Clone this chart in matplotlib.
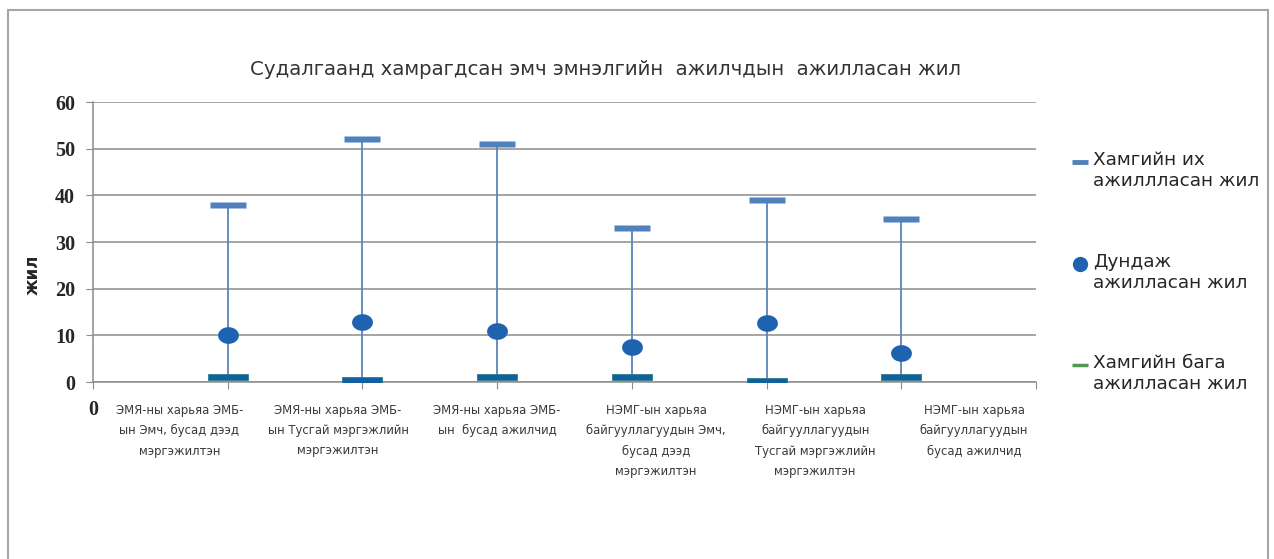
import numpy as np
import matplotlib
matplotlib.use("Agg")
import matplotlib.pyplot as plt
from matplotlib.path import Path
from matplotlib.lines import Line2D
from matplotlib.patches import Rectangle

# data
categories = [
    "ЭМЯ-ны харьяа ЭМБ-\nын Эмч, бусад дээд\nмэргэжилтэн",
    "ЭМЯ-ны харьяа ЭМБ-\nын Тусгай мэргэжлийн\nмэргэжилтэн",
    "ЭМЯ-ны харьяа ЭМБ-\nын  бусад ажилчид",
    "НЭМГ-ын харьяа\nбайгууллагуудын Эмч,\nбусад дээд\nмэргэжилтэн",
    "НЭМГ-ын харьяа\nбайгууллагуудын\nТусгай мэргэжлийн\nмэргэжилтэн",
    "НЭМГ-ын харьяа\nбайгууллагуудын\nбусад ажилчид",
]
max_years = [38, 52, 51, 33, 39, 35]
mean_years = [10.0, 12.8, 11.0, 7.6, 12.6, 6.3]
min_years = [1, 0.5, 1, 1, 0.25, 1]

series_names = ["Хамгийн их\nажиллласан жил",
                "Дундаж\nажилласан жил",
                "Хамгийн бага\nажилласан жил"]
title = "Судалгаанд хамрагдсан эмч эмнэлгийн  ажилчдын  ажилласан жил"

W, H = 1274, 559
fig = plt.figure(figsize=(W / 100, H / 100), dpi=100)
fig.patch.set_facecolor("white")

# outer chart frame
fig.add_artist(Rectangle((8 / W, -0.05), 1260 / W, 1.05 - 10 / H,
                         transform=fig.transFigure, fill=False,
                         edgecolor="#a6a6a6", lw=1.5))

ax = fig.add_axes([93 / W, 1 - 382 / H, 943 / W, 280 / H])

x = np.arange(1, len(categories) + 1)

# marker shapes (dash bars and ellipse)
def rect_marker(h):
    return Path([(-1, -h), (1, -h), (1, h), (-1, h), (-1, -h)],
                [Path.MOVETO, Path.LINETO, Path.LINETO, Path.LINETO, Path.CLOSEPOLY])

t = np.linspace(0, 2 * np.pi, 60)
ellipse = Path(np.column_stack([np.cos(t), 0.8 * np.sin(t)]))

c_max = "#4f81bd"
c_mean = "#1f63b0"
c_min = "#12609f"
c_line = "#5b85ba"

ax.vlines(x, min_years, max_years, color=c_line, lw=1.3, zorder=2)
ax.plot(x, max_years, ls="none", marker=rect_marker(0.16), ms=26.5,
        mfc=c_max, mec="none", zorder=3)
ax.plot(x, min_years, ls="none", marker=rect_marker(0.15), ms=29.5,
        mfc=c_min, mec="#2e7d8a", mew=0.6, zorder=3)
ax.plot(x, mean_years, ls="none", marker=ellipse, ms=15,
        mfc=c_mean, mec="none", zorder=4)

ax.set_xlim(0, 7)
ax.set_ylim(0, 60)
ax.set_yticks(range(0, 61, 10))
ax.grid(axis="y", color="#8c8c8c", lw=1.1)
ax.set_axisbelow(True)
for s in ["top", "right"]:
    ax.spines[s].set_visible(False)
for s in ["left", "bottom"]:
    ax.spines[s].set_color("#8c8c8c")
    ax.spines[s].set_linewidth(1.1)

ax.tick_params(axis="y", length=5, color="#8c8c8c", pad=8)
for lab in ax.get_yticklabels():
    lab.set_fontfamily("Liberation Serif")
    lab.set_fontweight("bold")
    lab.set_fontsize(14.5)
    lab.set_color("#262626")

# x ticks at category slots; only "0" is labelled on the axis itself
ax.set_xticks(range(0, 8))
ax.set_xticklabels(["0"] + [""] * 7, fontfamily="Liberation Serif",
                   fontweight="bold", fontsize=14.5, color="#262626")
ax.tick_params(axis="x", which="major", length=5, color="#8c8c8c", pad=8)

# category names sit in even slots under the axis, as in the source
label_pos = 0.64 + 1.18 * np.arange(len(categories))
for xp, name in zip(label_pos, categories):
    ax.text(xp, -22 / 280, name, transform=ax.get_xaxis_transform(),
            ha="center", va="top", fontsize=8.4, color="#3a3a3a",
            linespacing=1.72)

ax.set_ylabel("жил", fontsize=12, fontweight="bold", color="#262626")
ax.yaxis.set_label_coords(-0.054, 0.382)

fig.text(605 / W, 1 - 70 / H, title, ha="center", va="center",
         fontsize=14.2, color="#333333")

# legend drawn at the right
leg_y = [162, 264, 365]
handles = [
    dict(marker="_", color=c_max, ms=11, mew=3.5),
    dict(marker="o", color=c_mean, ms=11, mew=0),
    dict(marker="_", color="#4e9a4e", ms=11, mew=2.5),
]
for yy, name, hd in zip(leg_y, series_names, handles):
    fig.add_artist(Line2D([1080 / W], [1 - yy / H], transform=fig.transFigure,
                          ls="none", marker=hd["marker"], ms=hd["ms"],
                          mfc=hd["color"], mec=hd["color"], mew=hd["mew"]))
    fig.text(1093 / W, 1 - (yy - 11) / H, name, ha="left", va="top",
             fontsize=13.3, color="#262626", linespacing=1.2)

fig.savefig("out.png", dpi=100, facecolor="white")
